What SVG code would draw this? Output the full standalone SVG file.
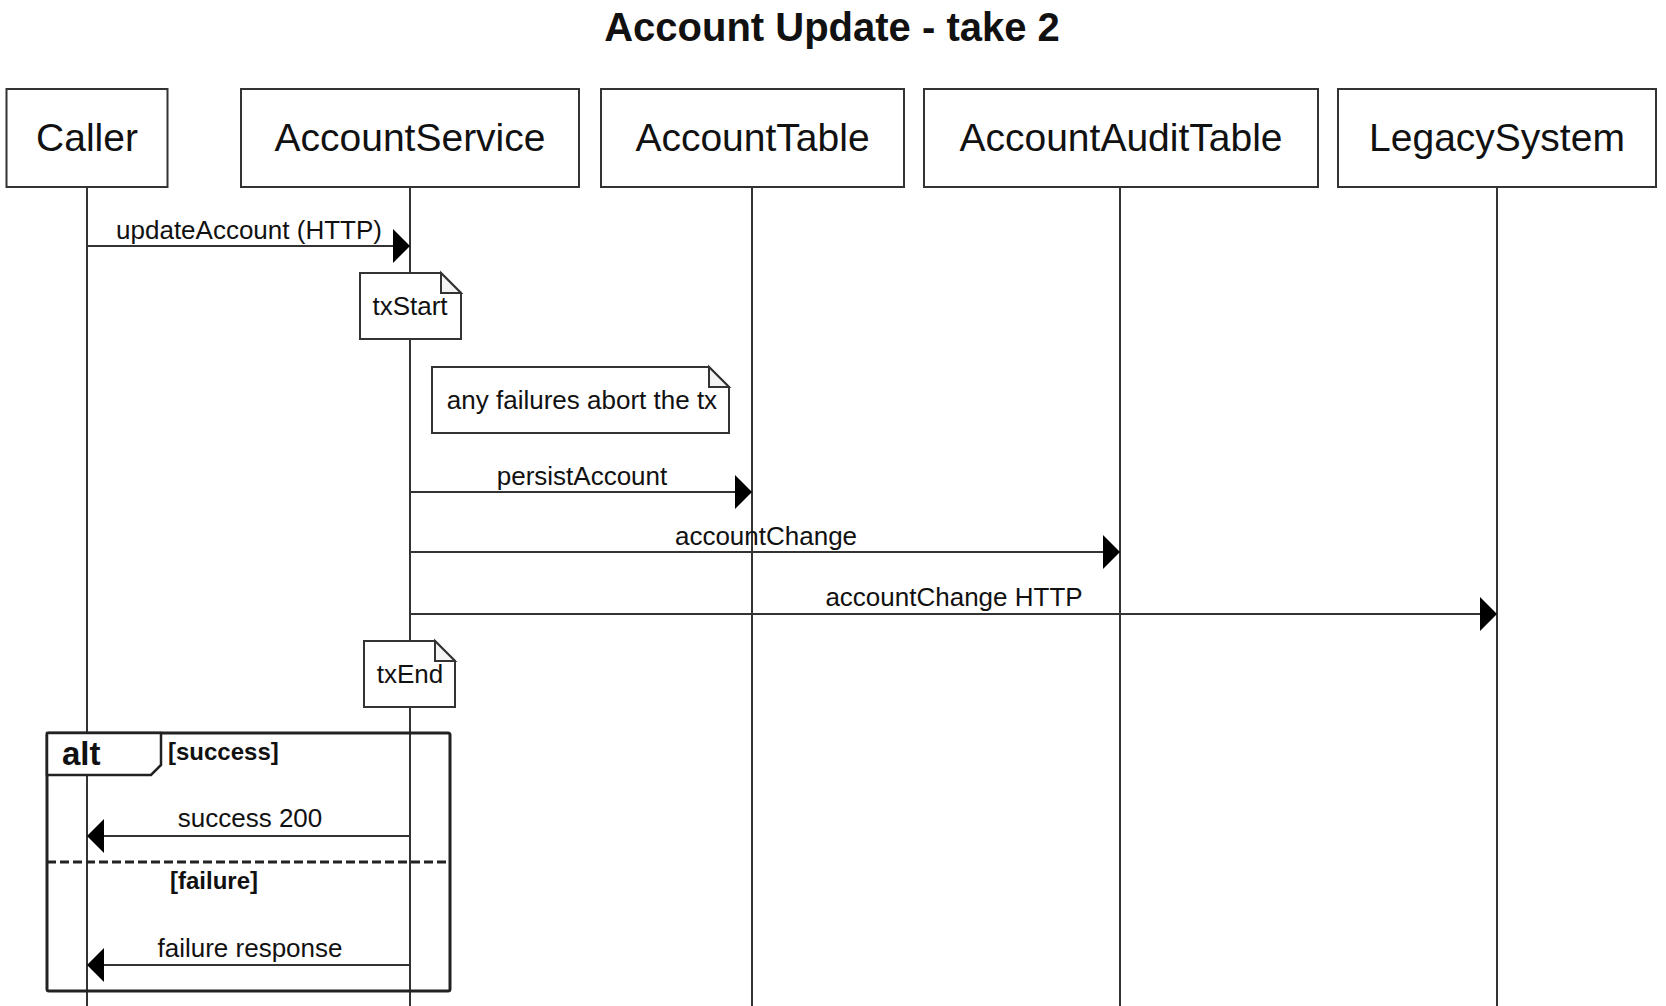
<svg xmlns="http://www.w3.org/2000/svg" width="1666" height="1006" viewBox="0 0 1666 1006">
  <style>
    text { font-family: "Liberation Sans", Arial, sans-serif; fill: #111; }
    .title { font-size: 40px; font-weight: bold; text-anchor: middle; }
    .part { fill: #fff; stroke: #333; stroke-width: 2; }
    .ptext { font-size: 39px; text-anchor: middle; }
    .life { stroke: #333; stroke-width: 2; fill: none; }
    .msg { stroke: #333; stroke-width: 2; fill: none; }
    .mtext { font-size: 26px; text-anchor: middle; }
    .note { fill: #fff; stroke: #333; stroke-width: 2; }
    .fold { fill: #f4f4f4; stroke: #333; stroke-width: 2; }
    .frame { fill: none; stroke: #222; stroke-width: 3; }
    .tab { fill: #fff; stroke: #222; stroke-width: 2.5; }
    .alt { font-size: 33px; font-weight: bold; }
    .guard { font-size: 24px; font-weight: bold; }
  </style>
  <defs>
    <marker id="arrow" markerUnits="userSpaceOnUse" markerWidth="18" markerHeight="36" viewBox="0 0 18 36" refX="17" refY="17" orient="auto">
      <path d="M0,0 L17,17 L0,34 Z" fill="#000"/>
    </marker>
  </defs>
  <rect width="1666" height="1006" fill="#fff"/>
  <text class="title" x="832" y="41">Account Update - take 2</text>

  <g id="lifelines">
    <line class="life" x1="87" y1="187" x2="87" y2="1006"/>
    <line class="life" x1="410" y1="187" x2="410" y2="1006"/>
    <line class="life" x1="752" y1="187" x2="752" y2="1006"/>
    <line class="life" x1="1120" y1="187" x2="1120" y2="1006"/>
    <line class="life" x1="1497" y1="187" x2="1497" y2="1006"/>
  </g>

  <g id="Caller">
    <rect class="part" x="6.5" y="89" width="161" height="98"/>
    <text class="ptext" x="87" y="151">Caller</text>
  </g>
  <g id="AccountService">
    <rect class="part" x="241" y="89" width="338" height="98"/>
    <text class="ptext" x="410" y="151">AccountService</text>
  </g>
  <g id="AccountTable">
    <rect class="part" x="601" y="89" width="303" height="98"/>
    <text class="ptext" x="752.5" y="151">AccountTable</text>
  </g>
  <g id="AccountAuditTable">
    <rect class="part" x="924" y="89" width="394" height="98"/>
    <text class="ptext" x="1121" y="151">AccountAuditTable</text>
  </g>
  <g id="LegacySystem">
    <rect class="part" x="1338" y="89" width="318" height="98"/>
    <text class="ptext" x="1497" y="151">LegacySystem</text>
  </g>

  <g id="note-txStart">
    <path class="note" d="M360,273 H441 L461,293 V339 H360 Z"/>
    <path class="fold" d="M441,273 V293 H461 Z"/>
    <text class="mtext" x="410" y="315">txStart</text>
  </g>
  <g id="note-failures">
    <path class="note" d="M432,367 H709 L729,387 V433 H432 Z"/>
    <path class="fold" d="M709,367 V387 H729 Z"/>
    <text class="mtext" x="582" y="409">any failures abort the tx</text>
  </g>
  <g id="note-txEnd">
    <path class="note" d="M364,641 H435 L455,661 V707 H364 Z"/>
    <path class="fold" d="M435,641 V661 H455 Z"/>
    <text class="mtext" x="410" y="683">txEnd</text>
  </g>

  <g id="alt-frame">
    <rect class="frame" x="47" y="733" width="403" height="258" rx="2"/>
    <path class="tab" d="M47,733 H161 V765 L151,775 H47 Z"/>
    <text class="alt" x="62" y="765">alt</text>
    <text class="guard" x="168" y="760">[success]</text>
    <line x1="47" y1="862" x2="450" y2="862" stroke="#222" stroke-width="3" stroke-dasharray="9 4"/>
    <text class="guard" x="170" y="889">[failure]</text>
  </g>

  <g id="connectors">
    <line class="msg" x1="87" y1="246" x2="410" y2="246" marker-end="url(#arrow)"/>
    <text class="mtext" x="249" y="239">updateAccount (HTTP)</text>
    <line class="msg" x1="410" y1="492" x2="752" y2="492" marker-end="url(#arrow)"/>
    <text class="mtext" x="582" y="485">persistAccount</text>
    <line class="msg" x1="410" y1="552" x2="1120" y2="552" marker-end="url(#arrow)"/>
    <text class="mtext" x="766" y="545">accountChange</text>
    <line class="msg" x1="410" y1="614" x2="1497" y2="614" marker-end="url(#arrow)"/>
    <text class="mtext" x="954" y="606">accountChange HTTP</text>
    <line class="msg" x1="410" y1="836" x2="87" y2="836" marker-end="url(#arrow)"/>
    <text class="mtext" x="250" y="827">success 200</text>
    <line class="msg" x1="410" y1="965" x2="87" y2="965" marker-end="url(#arrow)"/>
    <text class="mtext" x="250" y="957">failure response</text>
  </g>
</svg>
